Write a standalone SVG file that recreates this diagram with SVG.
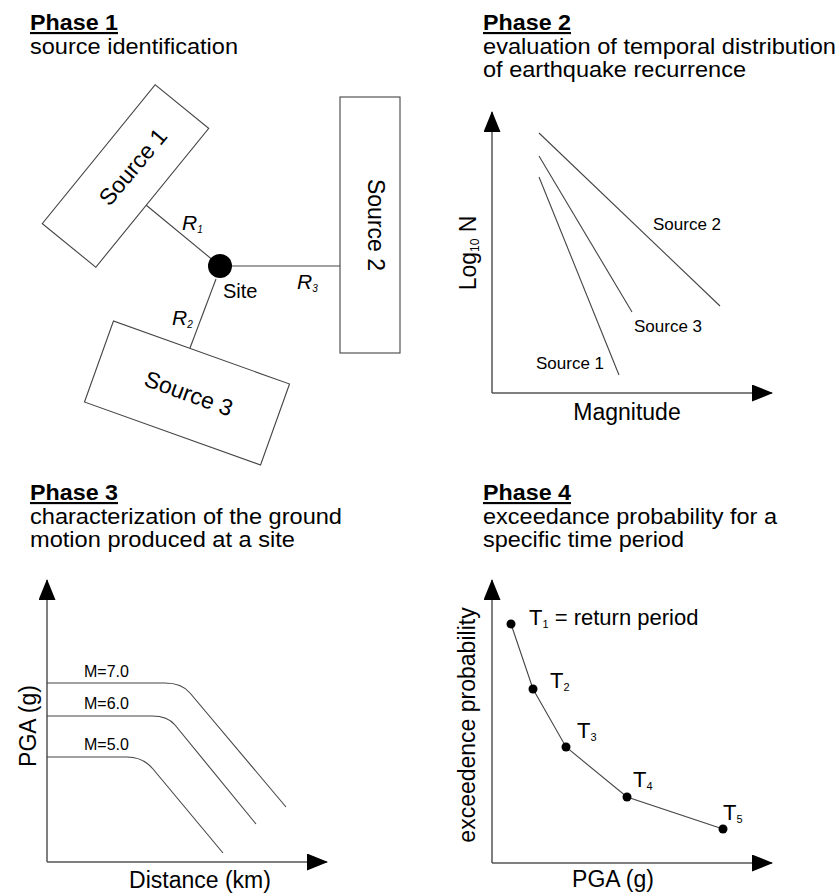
<svg xmlns="http://www.w3.org/2000/svg" width="838" height="896" viewBox="0 0 838 896">
<style>
text{font-family:"Liberation Sans",Arial,sans-serif;fill:#000}
.h{font-weight:bold;font-size:21.5px;text-decoration:underline}
.b{font-size:21.5px}
.ax{font-size:23px}
.sl{font-size:23px}
.sm{font-size:17px}
.mm{font-size:16px}
.r{font-size:21px;font-style:italic}
.t{font-size:22px}
.ln{fill:none;stroke:#444;stroke-width:1.1}
.axis{fill:none;stroke:#555;stroke-width:1.5}
.box{fill:#fff;stroke:#444;stroke-width:1.1}
.dot{fill:#000}
</style>
<defs>
<marker id="ah" markerUnits="userSpaceOnUse" viewBox="0 0 21 17" markerWidth="21" markerHeight="17" refX="20" refY="8.5" orient="auto">
<path d="M0,0 L21,8.5 L0,17 z" fill="#000"/>
</marker>
</defs>
<rect width="838" height="896" fill="#fff"/>

<!-- Headings -->
<g id="heading1">
<text class="h" x="30" y="30" textLength="88" lengthAdjust="spacingAndGlyphs">Phase 1</text>
<text class="b" x="30" y="54" textLength="208" lengthAdjust="spacingAndGlyphs">source identification</text>
</g>
<g id="heading2">
<text class="h" x="483" y="30" textLength="88" lengthAdjust="spacingAndGlyphs">Phase 2</text>
<text class="b" x="483" y="54" textLength="353" lengthAdjust="spacingAndGlyphs">evaluation of temporal distribution</text>
<text class="b" x="483" y="77" textLength="263" lengthAdjust="spacingAndGlyphs">of earthquake recurrence</text>
</g>
<g id="heading3">
<text class="h" x="30" y="500" textLength="88" lengthAdjust="spacingAndGlyphs">Phase 3</text>
<text class="b" x="30" y="524" textLength="312" lengthAdjust="spacingAndGlyphs">characterization of the ground</text>
<text class="b" x="30" y="547" textLength="265" lengthAdjust="spacingAndGlyphs">motion produced at a site</text>
</g>
<g id="heading4">
<text class="h" x="483" y="500" textLength="88" lengthAdjust="spacingAndGlyphs">Phase 4</text>
<text class="b" x="483" y="524" textLength="294" lengthAdjust="spacingAndGlyphs">exceedance probability for a</text>
<text class="b" x="483" y="547" textLength="201" lengthAdjust="spacingAndGlyphs">specific time period</text>
</g>

<!-- Phase 1 connectors -->
<g id="connectors">
<line class="ln" x1="146" y1="205" x2="220" y2="266"/>
<line class="ln" x1="220" y1="266" x2="340" y2="266"/>
<line class="ln" x1="216" y1="279" x2="190" y2="348"/>
</g>

<g id="source1">
<rect class="box" x="-89.5" y="-34.5" width="179" height="69" transform="translate(125.5,176) rotate(-50.9)"/>
<text class="sl" text-anchor="middle" transform="translate(139,172) rotate(-50)">Source 1</text>
</g>
<g id="source2">
<rect class="box" x="340" y="97" width="60" height="256"/>
<text class="sl" text-anchor="middle" transform="translate(368,225) rotate(90)">Source 2</text>
</g>
<g id="source3">
<rect class="box" x="-93.5" y="-43" width="187" height="86" transform="translate(187,393) rotate(19.7)"/>
<text class="sl" text-anchor="middle" transform="translate(186,401) rotate(20)">Source 3</text>
</g>
<g id="site">
<circle cx="220" cy="266" r="12" fill="#000"/>
<text x="223" y="298" style="font-size:20px">Site</text>
</g>
<g id="r-labels">
<text class="r" x="182" y="230">R<tspan font-size="10" dy="3">1</tspan></text>
<text class="r" x="297" y="289">R<tspan font-size="10" dy="3">3</tspan></text>
<text class="r" x="172" y="325">R<tspan font-size="10" dy="3">2</tspan></text>
</g>

<!-- Phase 2 -->
<g id="phase2-plot">
<line class="axis" x1="492" y1="393" x2="492" y2="112" marker-end="url(#ah)"/>
<line class="axis" x1="492" y1="393" x2="772" y2="393" marker-end="url(#ah)"/>
<line class="ln" x1="539" y1="133" x2="720" y2="306"/>
<line class="ln" x1="539" y1="156" x2="632" y2="312"/>
<line class="ln" x1="539" y1="177" x2="619" y2="375"/>
<text class="sm" x="653" y="230">Source 2</text>
<text class="sm" x="634" y="332">Source 3</text>
<text class="sm" x="536" y="369">Source 1</text>
<text class="ax" x="627" y="420" text-anchor="middle">Magnitude</text>
<text class="ax" text-anchor="middle" transform="translate(476,253) rotate(-90)">Log<tspan font-size="12" dy="3">10</tspan><tspan dy="-3"> N</tspan></text>
</g>

<!-- Phase 3 -->
<g id="phase3-plot">
<line class="axis" x1="47" y1="862" x2="47" y2="580" marker-end="url(#ah)"/>
<line class="axis" x1="47" y1="862" x2="327" y2="862" marker-end="url(#ah)"/>
<path class="ln" d="M47,683 L165,683 C178,683 185,687 190,693 L286,807"/>
<path class="ln" d="M47,716 L152,716 C165,716 171,720 175,725 L256,824"/>
<path class="ln" d="M47,757 L127,757 C140,757 148,763 153,769 L223,853"/>
<text class="mm" x="84" y="677">M=7.0</text>
<text class="mm" x="84" y="709">M=6.0</text>
<text class="mm" x="84" y="750">M=5.0</text>
<text class="ax" x="200" y="888" text-anchor="middle">Distance (km)</text>
<text class="ax" text-anchor="middle" transform="translate(36,726) rotate(-90)">PGA (g)</text>
</g>

<!-- Phase 4 -->
<g id="phase4-plot">
<line class="axis" x1="492" y1="863" x2="492" y2="580" marker-end="url(#ah)"/>
<line class="axis" x1="492" y1="863" x2="772" y2="863" marker-end="url(#ah)"/>
<polyline class="ln" points="511,624 533,689 566,747 627,797 723,829"/>
<circle class="dot" cx="511" cy="624" r="4.5"/>
<circle class="dot" cx="533" cy="689" r="4.5"/>
<circle class="dot" cx="566" cy="747" r="4.5"/>
<circle class="dot" cx="627" cy="797" r="4.5"/>
<circle class="dot" cx="723" cy="829" r="4.5"/>
<text class="t" x="529" y="625">T<tspan font-size="11" dy="3">1</tspan><tspan dy="-3"> = return period</tspan></text>
<text class="t" x="550" y="688">T<tspan font-size="11" dy="3">2</tspan></text>
<text class="t" x="577" y="738">T<tspan font-size="11" dy="3">3</tspan></text>
<text class="t" x="633" y="787">T<tspan font-size="11" dy="3">4</tspan></text>
<text class="t" x="723" y="820">T<tspan font-size="11" dy="3">5</tspan></text>
<text class="ax" x="613" y="887" text-anchor="middle">PGA (g)</text>
<text class="ax" text-anchor="middle" transform="translate(475,725) rotate(-90)">exceedence probability</text>
</g>
</svg>
